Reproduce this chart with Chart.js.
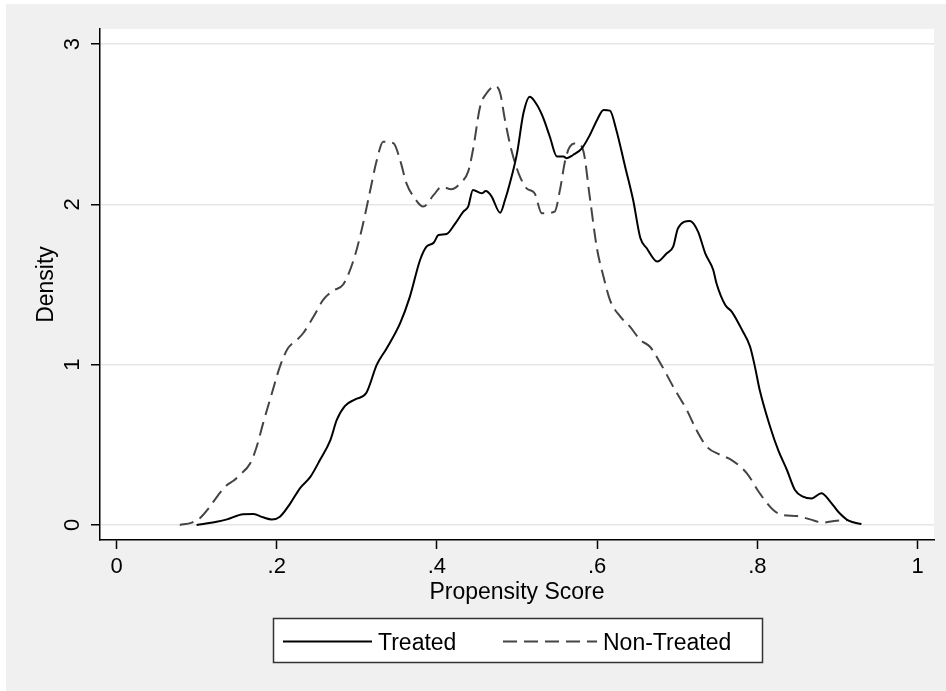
<!DOCTYPE html>
<html>
<head>
<meta charset="utf-8">
<script src="https://cdn.jsdelivr.net/npm/chart.js@4.4.1/dist/chart.umd.min.js"></script>
<style>
  html, body { margin: 0; padding: 0; background: #ffffff; }
  #wrap { position: absolute; left: 0; top: 0; width: 946px; height: 691px; }
</style>
</head>
<body>
<div id="wrap"><canvas id="c" width="946" height="691"></canvas></div>
<script>
// ---- data ----
const treatedX = [0.100,0.125,0.138,0.158,0.171,0.183,0.194,0.204,0.217,0.229,0.242,0.254,0.267,0.275,0.285,0.298,0.312,0.325,0.337,0.354,0.366,0.379,0.387,0.396,0.402,0.412,0.423,0.433,0.439,0.445,0.456,0.461,0.468,0.479,0.485,0.491,0.500,0.508,0.516,0.525,0.533,0.541,0.550,0.558,0.562,0.570,0.581,0.591,0.600,0.608,0.616,0.624,0.635,0.645,0.654,0.662,0.675,0.687,0.695,0.701,0.716,0.726,0.735,0.745,0.749,0.760,0.768,0.781,0.791,0.797,0.803,0.816,0.826,0.837,0.847,0.857,0.868,0.880,0.891,0.901,0.914,0.930];
const treatedY = [0.000,0.020,0.035,0.067,0.069,0.048,0.035,0.052,0.135,0.229,0.300,0.405,0.530,0.655,0.742,0.784,0.825,1.000,1.100,1.258,1.420,1.653,1.736,1.761,1.809,1.815,1.882,1.955,1.986,2.090,2.069,2.083,2.052,1.948,2.027,2.130,2.318,2.568,2.672,2.620,2.537,2.422,2.298,2.298,2.288,2.308,2.350,2.433,2.527,2.589,2.585,2.464,2.235,2.027,1.790,1.726,1.643,1.695,1.736,1.851,1.896,1.830,1.695,1.591,1.508,1.372,1.331,1.216,1.112,0.988,0.842,0.613,0.468,0.343,0.218,0.177,0.166,0.198,0.146,0.083,0.027,0.006];

const nonTreatedX = [0.079,0.094,0.104,0.115,0.127,0.138,0.146,0.154,0.167,0.175,0.183,0.194,0.204,0.214,0.225,0.233,0.246,0.258,0.270,0.283,0.296,0.306,0.316,0.325,0.333,0.346,0.354,0.362,0.371,0.383,0.396,0.406,0.418,0.429,0.439,0.445,0.454,0.462,0.473,0.479,0.485,0.493,0.502,0.512,0.522,0.531,0.547,0.554,0.560,0.566,0.575,0.583,0.591,0.600,0.608,0.616,0.629,0.641,0.654,0.666,0.679,0.695,0.712,0.724,0.737,0.754,0.768,0.787,0.803,0.820,0.832,0.849,0.866,0.882,0.899,0.912];
const nonTreatedY = [0.000,0.015,0.042,0.104,0.187,0.250,0.276,0.312,0.385,0.488,0.634,0.822,0.988,1.102,1.154,1.196,1.300,1.404,1.460,1.500,1.653,1.840,2.069,2.277,2.391,2.381,2.277,2.131,2.048,1.986,2.059,2.110,2.094,2.131,2.204,2.339,2.610,2.693,2.739,2.693,2.526,2.339,2.194,2.100,2.069,1.944,1.955,2.100,2.270,2.360,2.381,2.330,2.040,1.720,1.549,1.404,1.300,1.237,1.154,1.112,1.009,0.863,0.717,0.593,0.488,0.437,0.405,0.322,0.198,0.094,0.062,0.056,0.035,0.015,0.027,0.030];

const xTickValues = [0, 0.2, 0.4, 0.6, 0.8, 1];
const xTickLabels = ['0', '.2', '.4', '.6', '.8', '1'];
const yTickValues = [0, 1, 2, 3];
const yTickLabels = ['0', '1', '2', '3'];

const seriesNames = ['Treated', 'Non-Treated'];
const xTitle = 'Propensity Score';
const yTitle = 'Density';

// ---- styles ----
const FONT = '"Liberation Sans", Arial, Helvetica, sans-serif';
const DASH = [14, 7];
const DASH_COLOR = '#444444';

const toPoints = (xs, ys) => xs.map((x, i) => ({ x: x, y: ys[i] }));

const backgroundPlugin = {
  id: 'bg',
  beforeDraw(chart) {
    const ctx = chart.ctx, a = chart.chartArea;
    ctx.save();
    ctx.fillStyle = '#ffffff';
    ctx.fillRect(0, 0, chart.width, chart.height);
    ctx.fillStyle = '#f0f0f0';
    ctx.fillRect(6, 4, chart.width - 6, chart.height - 4);
    ctx.fillStyle = '#ffffff';
    ctx.fillRect(a.left, a.top, a.right - a.left, a.bottom - a.top);
    ctx.restore();
  }
};

const legendBoxPlugin = {
  id: 'legendBox',
  afterDraw(chart) {
    const ctx = chart.ctx;
    const ds = chart.data.datasets;
    ctx.save();
    ctx.fillStyle = '#ffffff';
    ctx.fillRect(273.5, 618.5, 489, 44);
    ctx.strokeStyle = '#333333';
    ctx.lineWidth = 1.5;
    ctx.strokeRect(273.5, 618.5, 489, 44);
    const lineY = 641.5;
    // solid sample
    ctx.lineWidth = 2;
    ctx.strokeStyle = ds[0].borderColor;
    ctx.setLineDash([]);
    ctx.beginPath(); ctx.moveTo(283, lineY); ctx.lineTo(372, lineY); ctx.stroke();
    // dashed sample
    ctx.strokeStyle = ds[1].borderColor;
    ctx.setLineDash(ds[1].borderDash);
    ctx.beginPath(); ctx.moveTo(503, lineY); ctx.lineTo(597, lineY); ctx.stroke();
    ctx.setLineDash([]);
    ctx.fillStyle = '#000000';
    ctx.font = '23px ' + FONT;
    ctx.textBaseline = 'alphabetic';
    ctx.textAlign = 'left';
    ctx.fillText(ds[0].label, 378, 650);
    ctx.fillText(ds[1].label, 603, 650);
    ctx.restore();
  }
};

new Chart(document.getElementById('c'), {
  type: 'line',
  data: {
    datasets: [
      {
        label: seriesNames[0],
        data: toPoints(treatedX, treatedY),
        borderColor: '#000000',
        borderWidth: 2,
        pointRadius: 0,
        fill: false,
        cubicInterpolationMode: 'monotone'
      },
      {
        label: seriesNames[1],
        data: toPoints(nonTreatedX, nonTreatedY),
        borderColor: DASH_COLOR,
        borderWidth: 2,
        borderDash: DASH,
        pointRadius: 0,
        fill: false,
        cubicInterpolationMode: 'monotone'
      }
    ]
  },
  options: {
    responsive: false,
    animation: false,
    events: [],
    layout: { padding: { left: 6, right: 12, top: 29, bottom: 80 } },
    plugins: { legend: { display: false }, tooltip: { enabled: false } },
    scales: {
      x: {
        type: 'linear',
        min: -0.0206,
        max: 1.0206,
        afterBuildTicks(axis) { axis.ticks = xTickValues.map(v => ({ value: v })); },
        afterFit(scale) { scale.height = 71; },
        ticks: {
          color: '#000000',
          font: { family: FONT, size: 22 },
          padding: 5,
          maxRotation: 0,
          minRotation: 0,
          autoSkip: false,
          callback(value) {
            const i = xTickValues.findIndex(v => Math.abs(v - value) < 1e-9);
            return i >= 0 ? xTickLabels[i] : '';
          }
        },
        grid: {
          drawOnChartArea: false,
          drawTicks: true,
          tickLength: 9,
          tickColor: '#000000',
          tickWidth: 1.5
        },
        border: { display: true, color: '#000000', width: 1.5 },
        title: {
          display: true,
          text: xTitle,
          color: '#000000',
          font: { family: FONT, size: 23 },
          padding: { top: 0, bottom: 5 }
        }
      },
      y: {
        type: 'linear',
        min: -0.0936,
        max: 3.094,
        afterBuildTicks(axis) { axis.ticks = yTickValues.map(v => ({ value: v })); },
        afterFit(scale) { scale.width = 94; },
        ticks: {
          color: '#000000',
          font: { family: FONT, size: 22 },
          padding: 12,
          minRotation: 90,
          maxRotation: 90,
          crossAlign: 'center',
          autoSkip: false,
          callback(value) {
            const i = yTickValues.findIndex(v => Math.abs(v - value) < 1e-9);
            return i >= 0 ? yTickLabels[i] : '';
          }
        },
        grid: {
          color: '#e6e6e6',
          lineWidth: 1.5,
          drawTicks: true,
          tickLength: 9,
          tickColor: '#000000',
          tickWidth: 1.5
        },
        border: { display: true, color: '#000000', width: 1.5 },
        title: {
          display: true,
          text: yTitle,
          color: '#000000',
          font: { family: FONT, size: 23 },
          padding: { top: 27, bottom: 0 }
        }
      }
    }
  },
  plugins: [backgroundPlugin, legendBoxPlugin]
});
</script>
</body>
</html>
